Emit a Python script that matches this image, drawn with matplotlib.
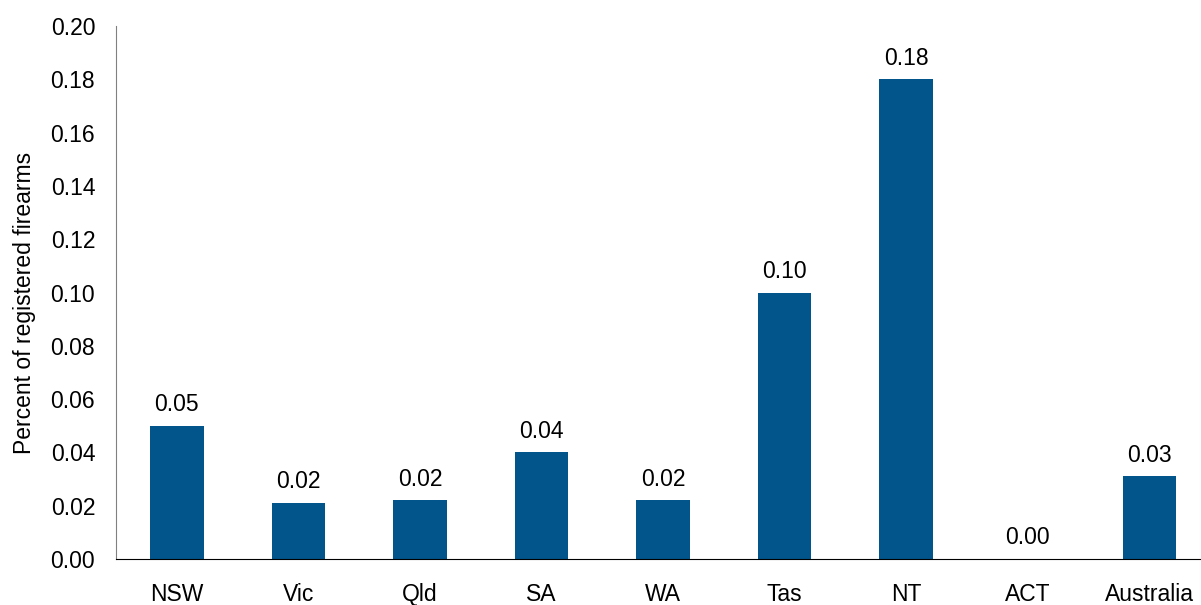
import matplotlib
matplotlib.use("Agg")
import matplotlib.pyplot as plt

plt.rcParams['font.family'] = ['Liberation Sans', 'DejaVu Sans']

# jurisdictions and share of registered firearms
states = ["NSW", "Vic", "Qld", "SA", "WA", "Tas", "NT", "ACT", "Australia"]
percent = [0.050, 0.021, 0.022, 0.040, 0.022, 0.100, 0.180, 0.000, 0.031]
labels = ["0.05", "0.02", "0.02", "0.04", "0.02", "0.10", "0.18", "0.00", "0.03"]
yticks = [0.00, 0.02, 0.04, 0.06, 0.08, 0.10, 0.12, 0.14, 0.16, 0.18, 0.20]

fig = plt.figure(figsize=(12.01, 6.05), dpi=100)
ax = fig.add_axes([0.0966, 0.076, 0.911, 0.881])

bars = ax.bar(range(len(states)), percent, width=0.44, color="#02558B")
for b, txt in zip(bars, labels):
    ax.annotate(txt, (b.get_x() + b.get_width() / 2, b.get_height()),
                xytext=(0, 7), textcoords="offset points",
                ha="center", va="bottom", fontsize=16.5)

ax.set_xlim(-0.5, len(states) - 0.5)
ax.set_ylim(0, 0.20)
ax.set_yticks(yticks)
ax.set_yticklabels(["%.2f" % v for v in yticks])
ax.set_xticks(range(len(states)))
ax.set_xticklabels(states)
ax.tick_params(axis="both", length=0, labelsize=16.5)
ax.tick_params(axis="x", pad=17.5)
ax.tick_params(axis="y", pad=15)
ax.set_ylabel("Percent of registered firearms", fontsize=16.5)
ax.yaxis.set_label_coords(-0.0735, 0.48)

ax.spines["top"].set_visible(False)
ax.spines["right"].set_visible(False)
ax.spines["left"].set_color("#808080")
ax.spines["bottom"].set_color("black")

fig.savefig("out.png", dpi=100)
